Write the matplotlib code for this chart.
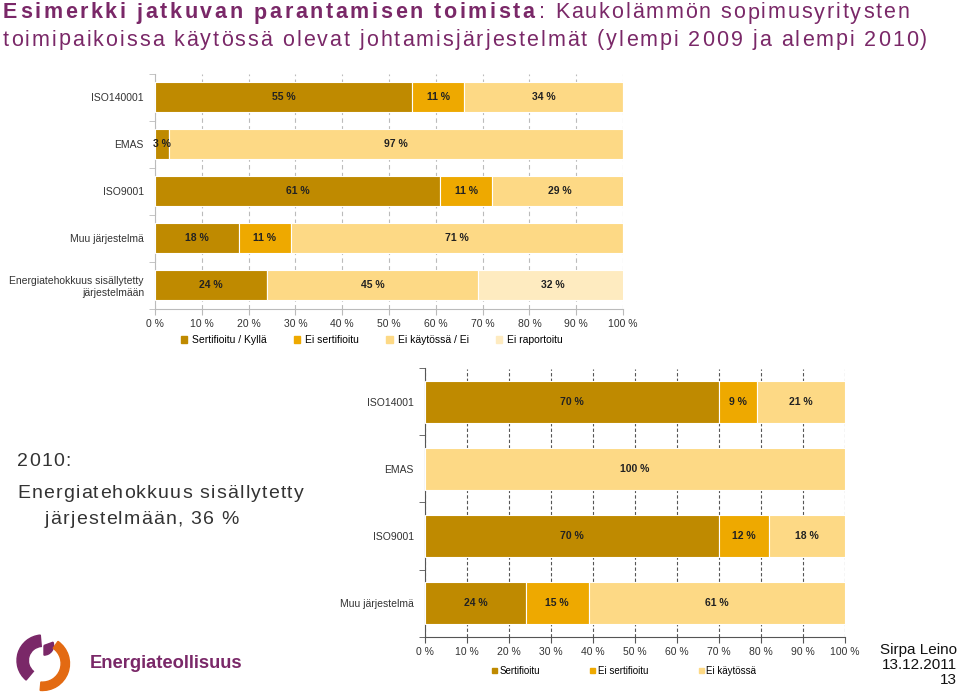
import matplotlib
matplotlib.use('Agg')
import matplotlib.pyplot as plt
import matplotlib.patches as patches
import numpy as np

# 2009 data (top chart)
cats_2009 = ['ISO140001', 'EMAS', 'ISO9001', 'Muu järjestelmä',
             'Energiatehokkuus sisällytetty\njärjestelmään']
sert_2009 = [55, 3, 61, 18, 24]
ei_sert_2009 = [11, 0, 11, 11, 0]
ei_kayt_2009 = [34, 97, 29, 71, 45]
ei_rap_2009 = [0, 0, 0, 0, 32]
legend_2009 = ['Sertifioitu / Kyllä', 'Ei sertifioitu', 'Ei käytössä / Ei', 'Ei raportoitu']

# 2010 data (bottom chart)
cats_2010 = ['ISO14001', 'EMAS', 'ISO9001', 'Muu järjestelmä']
sert_2010 = [70, 0, 70, 24]
ei_sert_2010 = [9, 0, 12, 15]
ei_kayt_2010 = [21, 100, 18, 61]
legend_2010 = ['Sertifioitu', 'Ei sertifioitu', 'Ei käytössä']

ticks = list(range(0, 101, 10))
tick_labels = ['%d %%' % t for t in ticks]

colors = ['#BF8A00', '#EEA900', '#FDD985', '#FEEBC0']
purple = '#7A2868'
W, H = 960, 695

plt.rcParams['font.family'] = ['Liberation Sans', 'DejaVu Sans']

fig = plt.figure(figsize=(9.6, 6.95), dpi=100)
r = fig.canvas.get_renderer()


def px_axes(x0, y0, x1, y1):
    # pixel box (top-left origin) -> figure axes
    return fig.add_axes([x0 / W, 1 - y1 / H, (x1 - x0) / W, (y1 - y0) / H])


def text_w(s, **kw):
    t = fig.text(0, 0, s, **kw)
    w = t.get_window_extent(r).width
    t.remove()
    return w


def spaced_text(x, y, s, spacing, **kw):
    # draw text with extra letter spacing, return end x in pixels
    bar = text_w('|', **kw)
    for i, ch in enumerate(s):
        if ch != ' ':
            off = text_w(s[:i] + '|', **kw) - bar if i else 0
            fig.text((x + off + i * spacing) / W, 1 - y / H, ch, va='center', ha='left', **kw)
    return x + text_w(s + '|', **kw) - bar + len(s) * spacing


def stacked(ax, cats, series, grid_color, grid_ls, fs):
    y = np.arange(len(cats))
    left = np.zeros(len(cats))
    for vals, col in zip(series, colors):
        vals = np.array(vals, dtype=float)
        ax.barh(y, vals, left=left, height=0.62, color=col, edgecolor='white',
                linewidth=0.8, zorder=3)
        for yi, (l, v) in enumerate(zip(left, vals)):
            if v > 0:
                ax.text(l + v / 2, yi, '%d %%' % v, ha='center', va='center',
                        fontsize=fs, fontweight='bold', color='#222222', zorder=4)
        left += vals
    ax.set_xlim(0, 100)
    ax.set_ylim(len(cats) - 0.5, -0.5)
    ax.set_xticks(ticks)
    ax.set_xticklabels(tick_labels, fontsize=fs, color='#333333')
    ax.set_yticks(y)
    ax.set_yticklabels(cats, fontsize=fs, color='#333333')
    ax.set_yticks(np.arange(len(cats) + 1) - 0.5, minor=True)
    ax.tick_params(axis='y', which='major', length=0, pad=8)
    ax.tick_params(axis='y', which='minor', length=4, color=grid_color)
    ax.tick_params(axis='x', length=4, color=grid_color)
    ax.xaxis.grid(True, color=grid_color, linestyle=grid_ls, linewidth=0.8, zorder=0)
    for s in ['top', 'right']:
        ax.spines[s].set_visible(False)
    ax.spines['left'].set_color(grid_color)
    ax.spines['bottom'].set_color(grid_color)


# top chart (2009)
ax1 = px_axes(155, 73.5, 623, 308.5)
stacked(ax1, cats_2009, [sert_2009, ei_sert_2009, ei_kayt_2009, ei_rap_2009],
        '#BBBBBB', (0, (4, 3)), 7.5)
handles = [patches.Patch(color=c) for c in colors]
fig.legend(handles, legend_2009, loc='center', bbox_to_anchor=(372 / W, 1 - 340 / H),
           ncol=4, frameon=False, fontsize=7.5, handlelength=0.6, handleheight=0.6,
           columnspacing=2.6, handletextpad=0.5)

# bottom chart (2010)
ax2 = px_axes(425, 368.5, 845, 636.5)
stacked(ax2, cats_2010, [sert_2010, ei_sert_2010, ei_kayt_2010],
        '#555555', (0, (3, 2)), 7.5)
fig.legend(handles[:3], legend_2010, loc='center', bbox_to_anchor=(624 / W, 1 - 671 / H),
           ncol=3, frameon=False, fontsize=7, handlelength=0.5, handleheight=0.5,
           columnspacing=5.2, handletextpad=0.25)

# title
x_end = spaced_text(3, 13, 'Esimerkki jatkuvan parantamisen toimista', 2.6,
                    fontsize=15.5, fontweight='bold', color=purple)
spaced_text(x_end + 2, 13, ': Kaukolämmön sopimusyritysten', 1.9,
            fontsize=15.5, color=purple)
spaced_text(3, 40, 'toimipaikoissa käytössä olevat johtamisjärjestelmät (ylempi 2009 ja alempi 2010)',
            2.0, fontsize=15.5, color=purple)

# side note
spaced_text(17, 462, '2010:', 1.2, fontsize=14, color='#333333')
spaced_text(17, 494, 'Energiatehokkuus sisällytetty', 1.2, fontsize=14, color='#333333')
spaced_text(45, 520, 'järjestelmään, 36 %', 1.2, fontsize=14, color='#333333')

# footer
for yy, s in [(650, 'Sirpa Leino'), (665, '13.12.2011'), (680, '13')]:
    fig.text(957 / W, 1 - yy / H, s, fontsize=11, color='#111111', ha='right', va='center')

# logo
lax = px_axes(5, 632, 80, 692)
lax.set_xlim(-1.25, 1.25)
lax.set_ylim(-1, 1)
lax.set_aspect('equal')
lax.axis('off')
lax.add_patch(patches.Wedge((0, 0.05), 0.85, 95, 230, width=0.38, color=purple))
lax.add_patch(patches.Wedge((0.05, 0.55), 0.32, 270, 20, width=0.3, color=purple))
lax.add_patch(patches.Wedge((0.0, -0.05), 0.9, -95, 55, width=0.28, color='#E36A12'))
fig.text(90 / W, 1 - 664 / H, 'Energiateollisuus', fontsize=13.2, fontweight='bold',
         color=purple, va='center', ha='left')

fig.savefig('out.png', dpi=100)
